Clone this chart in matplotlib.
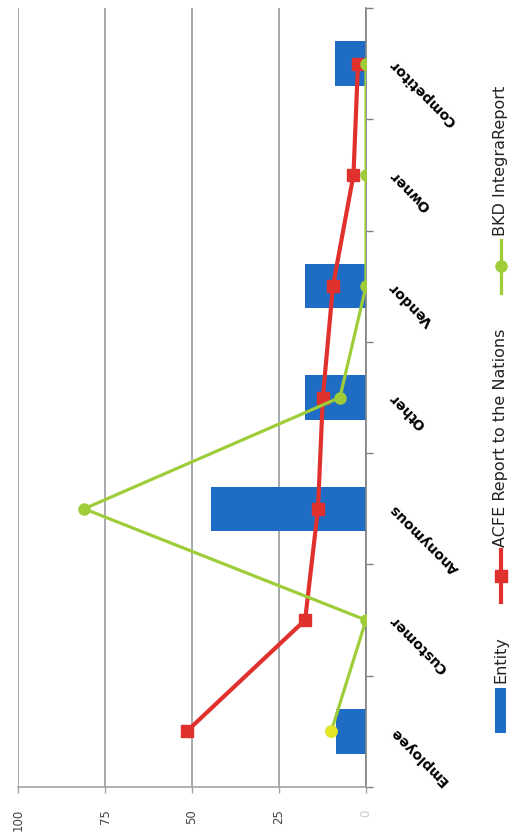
import matplotlib
matplotlib.use('Agg')
import matplotlib.pyplot as plt
from matplotlib.lines import Line2D
from matplotlib.patches import Rectangle
import matplotlib.transforms as mtransforms

# --- data ---
categories = ['Employee', 'Customer', 'Anonymous', 'Other', 'Vendor', 'Owner', 'Competitor']
entity = [8.5, 0, 44.5, 17.5, 17.5, 0, 9]
acfe = [51.5, 17.5, 13.8, 12.4, 9.5, 3.6, 2.3]
bkd = [10, 0, 81, 7.5, 0, 0, 0]
value_ticks = [0, 25, 50, 75, 100]

BLUE = '#1f6cc4'
RED = '#e0312f'
GREEN = '#9fcd3a'
GRID = '#a0a4a6'

W, H = 524, 834
fig = plt.figure(figsize=(W / 100, H / 100), dpi=100)
fig.patch.set_facecolor('white')

def fpos(x, y):
    # pixel position -> figure fraction
    return x / W, 1 - y / H

ax = fig.add_axes([18 / W, 1 - 787 / H, (366 - 18) / W, (787 - 8) / H])

pos = list(range(len(categories)))

# chart is laid out turned on its side: categories run bottom->top, values right->left
ax.barh(pos, entity, height=0.4, color=BLUE, zorder=2)
ax.plot(acfe, pos, color=RED, lw=3.0, marker='s', ms=9, zorder=3)
ax.plot(bkd, pos, color=GREEN, lw=2.3, marker='o', ms=8, zorder=4)
ax.plot(bkd[0], pos[0], marker='o', ms=8, color='#e4e627', zorder=5)

ax.set_xlim(100, 0)
ax.set_ylim(-0.5, len(categories) - 0.5)

ax.set_xticks(value_ticks)
ax.set_xticklabels([str(v) for v in value_ticks], rotation=90, fontsize=8.5, color='#444444')
ax.get_xticklabels()[0].set_color('#c8c8c8')
ax.tick_params(axis='x', length=4, width=1, color=GRID, pad=12)
ax.xaxis.grid(True, color=GRID, lw=1.3, zorder=0)
ax.set_axisbelow(True)

ax.set_yticks([p - 0.5 for p in pos] + [len(categories) - 0.5])
ax.set_yticklabels([])
ax.yaxis.tick_right()
ax.tick_params(axis='y', length=5, width=1, color='#808080')

for side in ['left', 'top']:
    ax.spines[side].set_visible(False)
ax.spines['right'].set_color('#808080')
ax.spines['right'].set_linewidth(1.2)
ax.spines['bottom'].set_color(GRID)
ax.spines['bottom'].set_linewidth(1.2)

# category names, turned with the chart
trans = mtransforms.blended_transform_factory(ax.transAxes, ax.transData)
for p, name in zip(pos, categories):
    ax.text(1.075, p + 0.02, name, transform=trans, rotation=135,
            rotation_mode='anchor', ha='right', va='center',
            fontsize=10, fontweight='bold', color='black', clip_on=False)

# legend, drawn along the right edge
LEG_FS = 11.5
fig.patches.append(Rectangle(fpos(495, 733), 11 / W, 45 / H, transform=fig.transFigure,
                             facecolor=BLUE, edgecolor='none'))
fig.text(*fpos(501, 683), 'Entity', rotation=90, ha='center', va='bottom',
         fontsize=LEG_FS, color='#222222')

x0, _ = fpos(501, 0)
fig.lines.append(Line2D([x0, x0], [fpos(0, 602)[1], fpos(0, 550)[1]], transform=fig.transFigure,
                        color=RED, lw=3.0))
fig.lines.append(Line2D([x0], [fpos(0, 576)[1]], transform=fig.transFigure,
                        color=RED, marker='s', ms=9, lw=0))
fig.text(*fpos(501, 547), 'ACFE Report to the Nations', rotation=90, ha='center', va='bottom',
         fontsize=LEG_FS, color='#222222')

fig.lines.append(Line2D([x0, x0], [fpos(0, 293)[1], fpos(0, 240)[1]], transform=fig.transFigure,
                        color=GREEN, lw=2.3))
fig.lines.append(Line2D([x0], [fpos(0, 266)[1]], transform=fig.transFigure,
                        color=GREEN, marker='o', ms=8, lw=0))
fig.text(*fpos(501, 236), 'BKD IntegraReport', rotation=90, ha='center', va='bottom',
         fontsize=LEG_FS, color='#222222')

fig.savefig('out.png', dpi=100)
